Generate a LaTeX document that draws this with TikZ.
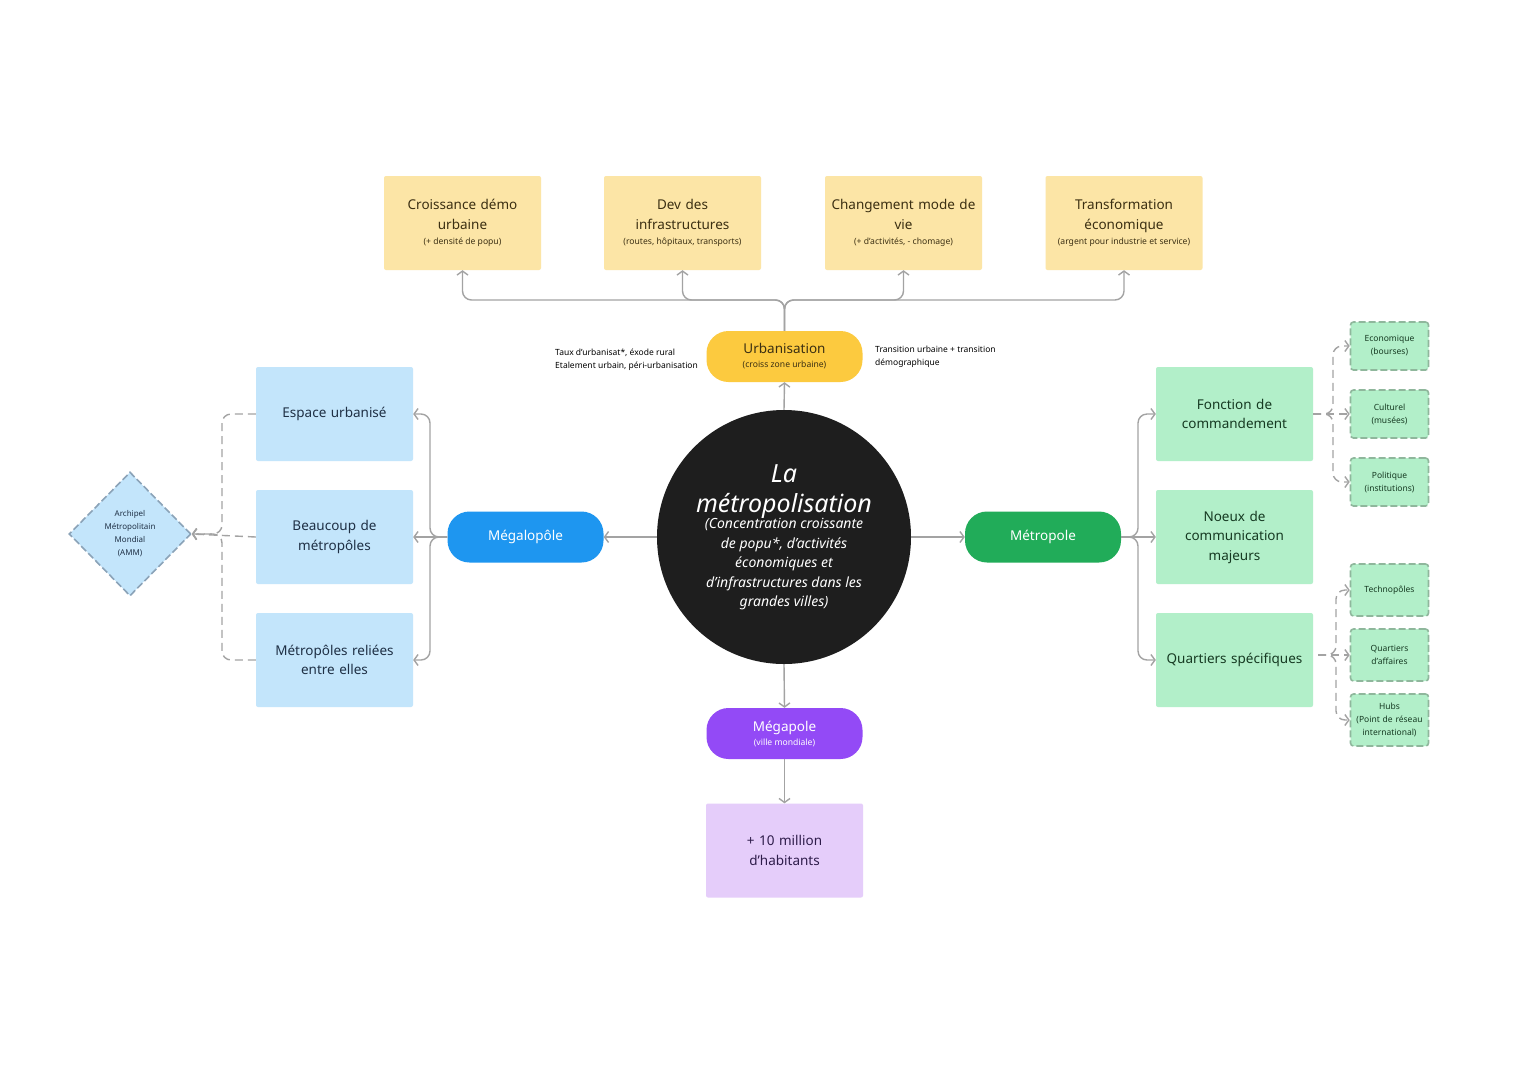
\documentclass[tikz,border=0pt]{standalone}
\usepackage{fontspec}
\setmainfont{Noto Sans}
\usetikzlibrary{arrows.meta,shapes.geometric,calc}
\definecolor{lineg}{HTML}{A3A3A3}
\definecolor{yelbox}{HTML}{FCE5A6}
\definecolor{yelpill}{HTML}{FCCA3F}
\definecolor{bluebox}{HTML}{C3E5FB}
\definecolor{bluepill}{HTML}{1E96F0}
\definecolor{greenbox}{HTML}{B2EFC9}
\definecolor{greenpill}{HTML}{21AC59}
\definecolor{purplepill}{HTML}{934AF6}
\definecolor{purplebox}{HTML}{E5CDFA}
\definecolor{darkc}{HTML}{1E1E1E}
\definecolor{ytext}{HTML}{3B2F12}
\definecolor{btext}{HTML}{1F3045}
\definecolor{gtext}{HTML}{163A22}
\definecolor{ptext}{HTML}{2E1C4A}
\definecolor{dgreen}{HTML}{8FB79C}
\definecolor{dblue}{HTML}{8BA3B8}
\newcommand{\subtxt}[1]{\mbox{\fontsize{8.6}{10}\selectfont\spaceskip=0pt\xspaceskip=0pt\relax #1}}
\tikzset{
  box/.style={rectangle, rounded corners=2pt, minimum width=157pt, minimum height=94pt, text width=145pt, align=center, inner sep=0pt, font=\fontsize{13.5}{19.5}\selectfont},
  pill/.style={rectangle, rounded corners=22pt, minimum width=156pt, minimum height=51pt, align=center, inner sep=0pt, text=white, font=\fontsize{13.5}{17}\selectfont},
  small/.style={rectangle, rounded corners=3pt, draw=dgreen, dashed, dash pattern=on 7pt off 3pt, line width=1.6pt, fill=greenbox, minimum width=78pt, text width=74pt, align=center, inner sep=0pt, text=gtext, font=\fontsize{8.5}{13}\selectfont},
  conn/.style={draw=lineg, line width=1.4pt, rounded corners=9pt, -{Straight Barb[length=4pt,width=11pt]}},
  dconn/.style={conn, dashed, dash pattern=on 8pt off 5pt},
  note/.style={align=left, inner sep=0pt, font=\fontsize{8.5}{13}\selectfont, text=black}
}
\begin{document}
\begin{tikzpicture}[x=1pt,y=-1pt]
\useasboundingbox[fill=white] (0,0) rectangle (1528,1080);

% top yellow boxes
\node[box, fill=yelbox, text=ytext] (b1) at (462.5,223) {Croissance démo\\urbaine\\[-4pt]\subtxt{(+ densité de popu)}};
\node[box, fill=yelbox, text=ytext] (b2) at (682.5,223) {Dev des\\infrastructures\\[-4pt]\subtxt{(routes, hôpitaux, transports)}};
\node[box, fill=yelbox, text=ytext] (b3) at (903.5,223) {Changement mode de\\vie\\[-4pt]\subtxt{(+ d'activités, - chomage)}};
\node[box, fill=yelbox, text=ytext, text width=150pt] (b4) at (1124,223) {Transformation\\économique\\[-4pt]\subtxt{(argent pour industrie et service)}};

% Urbanisation
\node[pill, fill=yelpill, text=ytext] (urb) at (784.5,356.5) {Urbanisation\\[-3pt]\subtxt{(croiss zone urbaine)}};
\coordinate (hub) at (784.5,300);
\draw[conn] (urb.north) -- (hub) -| (b1.south);
\draw[conn] (urb.north) -- (hub) -| (b2.south);
\draw[conn] (urb.north) -- (hub) -| (b3.south);
\draw[conn] (urb.north) -- (hub) -| (b4.south);

\node[note, anchor=west] (n1) at (555,359.5) {Taux d'urbanisat*, éxode rural\\Etalement urbain, péri-urbanisation};
\node[note, anchor=west] (n2) at (875,356.5) {Transition urbaine + transition\\démographique};

% central circle
\node[circle, fill=darkc, minimum size=254pt, inner sep=0pt, text=white] (c) at (784,537)
{\begin{minipage}{185pt}\centering\itshape
\fontsize{25}{30}\selectfont La\\ métropolisation\par
\vspace{-3pt}\fontsize{14}{19.5}\selectfont (Concentration croissante\\ de popu*, d'activités\\ économiques et\\ d'infrastructures dans les\\ grandes villes)\par
\end{minipage}};

\draw[conn] (c.north) -- (urb.south);

% Megalopole
\node[pill, fill=bluepill] (mgl) at (525.5,537) {Mégalopôle};
\draw[conn] (c.west) -- (mgl.east);

\node[box, fill=bluebox, text=btext] (e1) at (334.5,414) {Espace urbanisé};
\node[box, fill=bluebox, text=btext] (e2) at (334.5,537) {Beaucoup de\\métropôles};
\node[box, fill=bluebox, text=btext] (e3) at (334.5,660) {Métropôles reliées\\entre elles};
\coordinate (lh) at (430,537);
\draw[conn] (mgl.west) -- (lh) |- (e1.east);
\draw[conn] (mgl.west) -- (e2.east);
\draw[conn] (mgl.west) -- (lh) |- (e3.east);

\node[diamond, draw=dblue, dashed, dash pattern=on 7pt off 3pt, line width=1.6pt, fill=bluebox, minimum width=122pt, minimum height=124pt, inner sep=0pt, align=center, text=btext, font=\fontsize{8}{13}\selectfont] (amm) at (130,534) {Archipel\\Métropolitain\\Mondial\\(AMM)};
\coordinate (lj) at (222,534);
\draw[dconn] (e1.west) -| (lj) -- (amm.east);
\draw[dconn] (e2.west) -- (amm.east);
\draw[dconn] (e3.west) -| (lj) -- (amm.east);

% Metropole
\node[pill, fill=greenpill] (mtp) at (1043,537) {Métropole};
\draw[conn] (c.east) -- (mtp.west);

\node[box, fill=greenbox, text=gtext] (g1) at (1234.5,414) {Fonction de\\commandement};
\node[box, fill=greenbox, text=gtext] (g2) at (1234.5,537) {Noeux de\\communication\\majeurs};
\node[box, fill=greenbox, text=gtext] (g3) at (1234.5,660) {Quartiers spécifiques};
\coordinate (rh) at (1138,537);
\draw[conn] (mtp.east) -- (rh) |- (g1.west);
\draw[conn] (mtp.east) -- (g2.west);
\draw[conn] (mtp.east) -- (rh) |- (g3.west);

\node[small, minimum height=48pt] (s1) at (1389.5,346) {Economique\\(bourses)};
\node[small, minimum height=48pt] (s2) at (1389.5,414) {Culturel\\(musées)};
\node[small, minimum height=48pt] (s3) at (1389.5,482) {Politique\\(institutions)};
\node[small, minimum height=52pt] (s4) at (1389.5,590) {Technopôles};
\node[small, minimum height=52pt] (s5) at (1389.5,655) {Quartiers\\d'affaires};
\node[small, minimum height=52pt] (s6) at (1389.5,720) {Hubs\\(Point de réseau\\international)};

\coordinate (rj1) at (1333,414);
\draw[dconn] (g1.east) -- (rj1) |- (s1.west);
\draw[dconn] (g1.east) -- (s2.west);
\draw[dconn] (g1.east) -- (rj1) |- (s3.west);
\coordinate (rj2) at (1336,655);
\coordinate (g3o) at (1318,655);
\draw[dconn] (g3o) -- (rj2) |- (s4.west);
\draw[dconn] (g3o) -- (s5.west);
\draw[dconn] (g3o) -- (rj2) |- (s6.west);

% Megapole
\node[pill, fill=purplepill] (mgp) at (784.5,733.5) {Mégapole\\[-3pt]\subtxt{(ville mondiale)}};
\draw[conn] (c.south) -- (mgp.north);
\node[box, fill=purplebox, text=ptext] (p1) at (784.5,850.5) {+ 10 million\\d'habitants};
\draw[conn] (mgp.south) -- (p1.north);
\end{tikzpicture}
\end{document}
